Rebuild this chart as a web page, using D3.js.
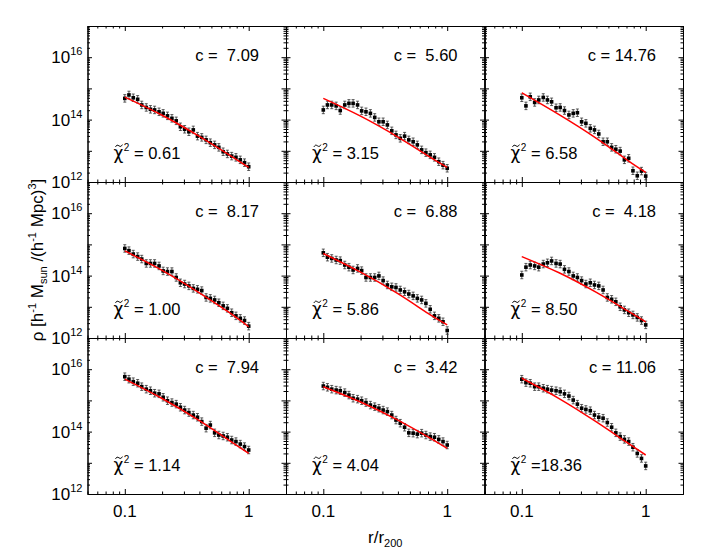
<!DOCTYPE html>
<html>
<head>
<meta charset="utf-8">
<title>Density profiles</title>
<script src="https://cdn.jsdelivr.net/npm/d3@7"></script>
<style>
	body { margin: 0; background: #fff; }
	text { font-family: "Liberation Sans", Arial, Helvetica, sans-serif; fill: #000; }
</style>
</head>
<body>
<script>
// radius bins r/r200 (same for every panel)
const radius = [0.100, 0.108, 0.117, 0.127, 0.137, 0.149, 0.161, 0.174, 0.189, 0.204,
	0.221, 0.240, 0.260, 0.281, 0.304, 0.329, 0.357, 0.386, 0.418, 0.453,
	0.490, 0.531, 0.574, 0.622, 0.673, 0.729, 0.789, 0.855, 0.925, 1.000];

// log10(rho) of the measured points, one list per panel (row by row)
const rho1 = [14.68,14.79,14.70,14.65,14.47,14.39,14.33,14.31,14.25,14.20,14.12,14.04,13.96,13.77,13.69,13.61,13.67,13.47,13.43,13.35,13.26,13.19,13.11,12.97,12.90,12.83,12.79,12.71,12.62,12.49];
const rho2 = [14.31,14.47,14.47,14.44,14.29,14.47,14.52,14.52,14.47,14.28,14.25,14.20,14.07,13.93,13.93,13.83,13.64,13.51,13.40,13.47,13.35,13.29,13.19,13.03,12.94,12.87,12.79,12.65,12.54,12.44];
const rho3 = [14.70,14.44,14.73,14.55,14.63,14.71,14.63,14.57,14.38,14.39,14.29,14.15,14.20,14.22,13.93,13.88,13.72,13.67,13.54,13.29,13.29,13.11,13.05,12.99,12.71,12.76,12.36,12.20,12.35,12.19];
const rho4 = [14.87,14.80,14.69,14.61,14.53,14.39,14.39,14.39,14.31,14.15,14.13,14.13,13.94,13.77,13.73,13.67,13.59,13.56,13.52,13.30,13.27,13.22,13.13,13.03,12.95,12.81,12.71,12.63,12.56,12.38];
const rho5 = [14.73,14.59,14.55,14.50,14.48,14.34,14.27,14.18,14.23,14.16,13.94,13.94,13.94,13.99,13.84,13.70,13.64,13.62,13.54,13.48,13.41,13.35,13.27,13.22,13.11,12.92,12.71,12.63,12.52,12.24];
const rho6 = [14.02,14.27,14.34,14.31,14.27,14.37,14.41,14.47,14.39,14.37,14.20,14.13,13.99,13.94,13.84,13.73,13.77,13.70,13.67,13.54,13.30,13.24,13.16,13.00,12.90,12.81,12.74,12.66,12.56,12.42];
const rho7 = [15.76,15.68,15.60,15.55,15.44,15.36,15.31,15.23,15.21,15.10,14.99,14.93,14.88,14.78,14.69,14.61,14.53,14.46,14.32,14.11,14.21,13.96,13.89,13.86,13.82,13.73,13.68,13.60,13.52,13.41];
const rho8 = [15.46,15.42,15.36,15.33,15.31,15.25,15.17,15.07,15.04,14.99,14.93,14.85,14.80,14.75,14.69,14.64,14.53,14.37,14.27,14.14,13.96,13.95,13.92,13.95,13.89,13.84,13.82,13.75,13.68,13.57];
const rho9 = [15.68,15.57,15.55,15.44,15.44,15.39,15.36,15.33,15.31,15.28,15.21,15.14,15.01,14.88,14.75,14.71,14.67,14.53,14.46,14.43,14.29,14.14,13.96,13.84,13.75,13.68,13.50,13.30,13.14,12.90];
const errDex = 0.12; // half length of the error bars, dex

// fitted profile (red line), read at a few radii
const fitR = [0.1, 0.2, 0.4, 0.7, 1.0];
const fit1 = [14.72, 14.14, 13.46, 12.86, 12.47];
const fit2 = [14.68, 14.11, 13.44, 12.84, 12.47];
const fit3 = [14.86, 14.16, 13.40, 12.72, 12.31];
const fit4 = [14.79, 14.17, 13.45, 12.81, 12.36];
const fit5 = [14.71, 14.11, 13.42, 12.79, 12.42];
const fit6 = [14.61, 14.09, 13.46, 12.89, 12.52];
const fit7 = [15.68, 15.06, 14.35, 13.71, 13.30];
const fit8 = [15.44, 14.95, 14.37, 13.83, 13.46];
const fit9 = [15.71, 15.06, 14.31, 13.66, 13.25];

const conc = [7.09, 5.60, 14.76, 8.17, 6.88, 4.18, 7.94, 3.42, 11.06];
const chi2 = [0.61, 3.15, 6.58, 1.00, 5.86, 8.50, 1.14, 4.04, 18.36];

const xTicks = [0.1, 1], xTickLabels = ["0.1", "1"];
const yTicks = [1e12, 1e14, 1e16], yTickExp = ["12", "14", "16"];

const rhoAll = [rho1, rho2, rho3, rho4, rho5, rho6, rho7, rho8, rho9];
const fitAll = [fit1, fit2, fit3, fit4, fit5, fit6, fit7, fit8, fit9];

let width = 709, height = 550;
let mLeft = 87.5, mTop = 26, pw = 198.5, ph = 156;

let svg = d3.select("body").append("svg").attr("width", width).attr("height", height);

let x = d3.scaleLog().domain([0.05, 2]).range([0, pw]);
let y = d3.scaleLog().domain([1e12, 1e17]).range([ph, 0]);

// tick positions
let xMinor = [0.05,0.06,0.07,0.08,0.09,0.2,0.3,0.4,0.5,0.6,0.7,0.8,0.9,2];
let yMajor = [1e12,1e13,1e14,1e15,1e16,1e17];
let yMinor = [];
for (let e = 12; e < 17; e++) for (let m = 2; m < 10; m++) yMinor.push(m * Math.pow(10, e));

let fmt = d3.format("5.2f");

function axis(g, maker, vals, size, tr) {
	g.append("g").attr("transform", tr)
		.call(maker.tickValues(vals).tickSize(-size).tickSizeOuter(0).tickFormat(""))
		.call(a => a.selectAll("path").attr("stroke", "#000"))
		.call(a => a.selectAll("line").attr("stroke", "#000").attr("stroke-width", 1));
}

rhoAll.forEach(function(rho, k) {
	let col = k % 3, row = Math.floor(k / 3);
	let g = svg.append("g").attr("transform", "translate(" + (mLeft + col * pw) + "," + (mTop + row * ph) + ")");

	// frame + inward ticks
	[[yMajor, 4.5], [yMinor, 2.5]].forEach(function(t) {
		axis(g, d3.axisLeft(y), t[0], t[1], "translate(0,0)");
		axis(g, d3.axisRight(y), t[0], t[1], "translate(" + pw + ",0)");
	});
	[[xTicks, 5], [xMinor, 2.5]].forEach(function(t) {
		axis(g, d3.axisBottom(x), t[0], t[1], "translate(0," + ph + ")");
		axis(g, d3.axisTop(x), t[0], t[1], "translate(0,0)");
	});

	let pts = radius.map((r, i) => ({ r: r, v: rho[i] }));

	// error bars
	let eb = g.append("g").attr("stroke", "#333").attr("stroke-width", 0.8);
	pts.forEach(function(d) {
		let cx = x(d.r), y0 = y(Math.pow(10, d.v - errDex)), y1 = y(Math.pow(10, d.v + errDex));
		eb.append("line").attr("x1", cx).attr("x2", cx).attr("y1", y0).attr("y2", y1);
		eb.append("line").attr("x1", cx - 1.5).attr("x2", cx + 1.5).attr("y1", y0).attr("y2", y0);
		eb.append("line").attr("x1", cx - 1.5).attr("x2", cx + 1.5).attr("y1", y1).attr("y2", y1);
	});

	// points
	g.selectAll("rect.pt").data(pts).enter().append("rect")
		.attr("class", "pt")
		.attr("x", d => x(d.r) - 1.8)
		.attr("y", d => y(Math.pow(10, d.v)) - 1.8)
		.attr("width", 3.6).attr("height", 3.6)
		.attr("fill", "#000");

	// fit
	let line = d3.line().x(d => x(d[0])).y(d => y(Math.pow(10, d[1]))).curve(d3.curveNatural);
	g.append("path")
		.attr("d", line(fitR.map((r, i) => [r, fitAll[k][i]])))
		.attr("fill", "none").attr("stroke", "#ff0000").attr("stroke-width", 1.5);

	// labels
	g.append("text")
		.attr("x", pw - 27).attr("y", 34.5)
		.attr("text-anchor", "end").style("white-space", "pre")
		.attr("font-size", 16.5)
		.text("c = " + fmt(conc[k]));

	// chi-tilde squared: chi, a small tilde stroke over it, then the value
	let t = g.append("text").attr("x", 26).attr("y", 132.5).attr("font-size", 16.5).style("white-space", "pre");
	let chi = t.append("tspan").attr("font-family", "DejaVu Sans").attr("font-size", 17).text("\u03C7");
	let cw = chi.node().getComputedTextLength();
	t.append("tspan").attr("font-size", 10).attr("dx", 0.5).attr("dy", -8).text("2");
	t.append("tspan").attr("dy", 8).text(" =" + fmt(chi2[k]));
	let tc = 26 + cw / 2 + 0.5;
	g.append("path")
		.attr("d", d3.line().curve(d3.curveBasis)([[tc - 3.5, 121], [tc - 2, 118.6], [tc, 119.8], [tc + 2, 121], [tc + 3.5, 118.6]]))
		.attr("fill", "none").attr("stroke", "#000").attr("stroke-width", 1);

	// tick labels
	if (col === 0) {
		yTicks.forEach(function(v, i) {
			let lt = g.append("text").attr("x", -5).attr("y", y(v) + 6)
				.attr("text-anchor", "end").attr("font-size", 17);
			lt.append("tspan").text("10");
			lt.append("tspan").attr("font-size", 11).attr("dy", -8).text(yTickExp[i]);
		});
	}
	if (row === 2) {
		xTicks.forEach(function(v, i) {
			g.append("text").attr("x", x(v)).attr("y", ph + 23)
				.attr("text-anchor", "middle").attr("font-size", 17)
				.text(xTickLabels[i]);
		});
	}
});

// axis titles
let xt = svg.append("text").attr("x", mLeft + 1.5 * pw).attr("y", 543)
	.attr("text-anchor", "middle").attr("font-size", 17);
xt.append("tspan").text("r/r");
xt.append("tspan").attr("font-size", 11).attr("dy", 4).text("200");

let yt = svg.append("text")
	.attr("transform", "translate(43," + (mTop + 1.5 * ph) + ") rotate(-90)")
	.attr("text-anchor", "middle").attr("font-size", 17);
yt.append("tspan").text("\u03C1 [h");
yt.append("tspan").attr("font-size", 11).attr("dy", -7).text("-1");
yt.append("tspan").attr("dy", 7).text(" M");
yt.append("tspan").attr("font-size", 11).attr("dy", 4).text("sun");
yt.append("tspan").attr("dy", -4).text(" /(h");
yt.append("tspan").attr("font-size", 11).attr("dy", -7).text("-1");
yt.append("tspan").attr("dy", 7).text(" Mpc)");
yt.append("tspan").attr("font-size", 11).attr("dy", -7).text("3");
yt.append("tspan").attr("dy", 7).text("]");
</script>
</body>
</html>
